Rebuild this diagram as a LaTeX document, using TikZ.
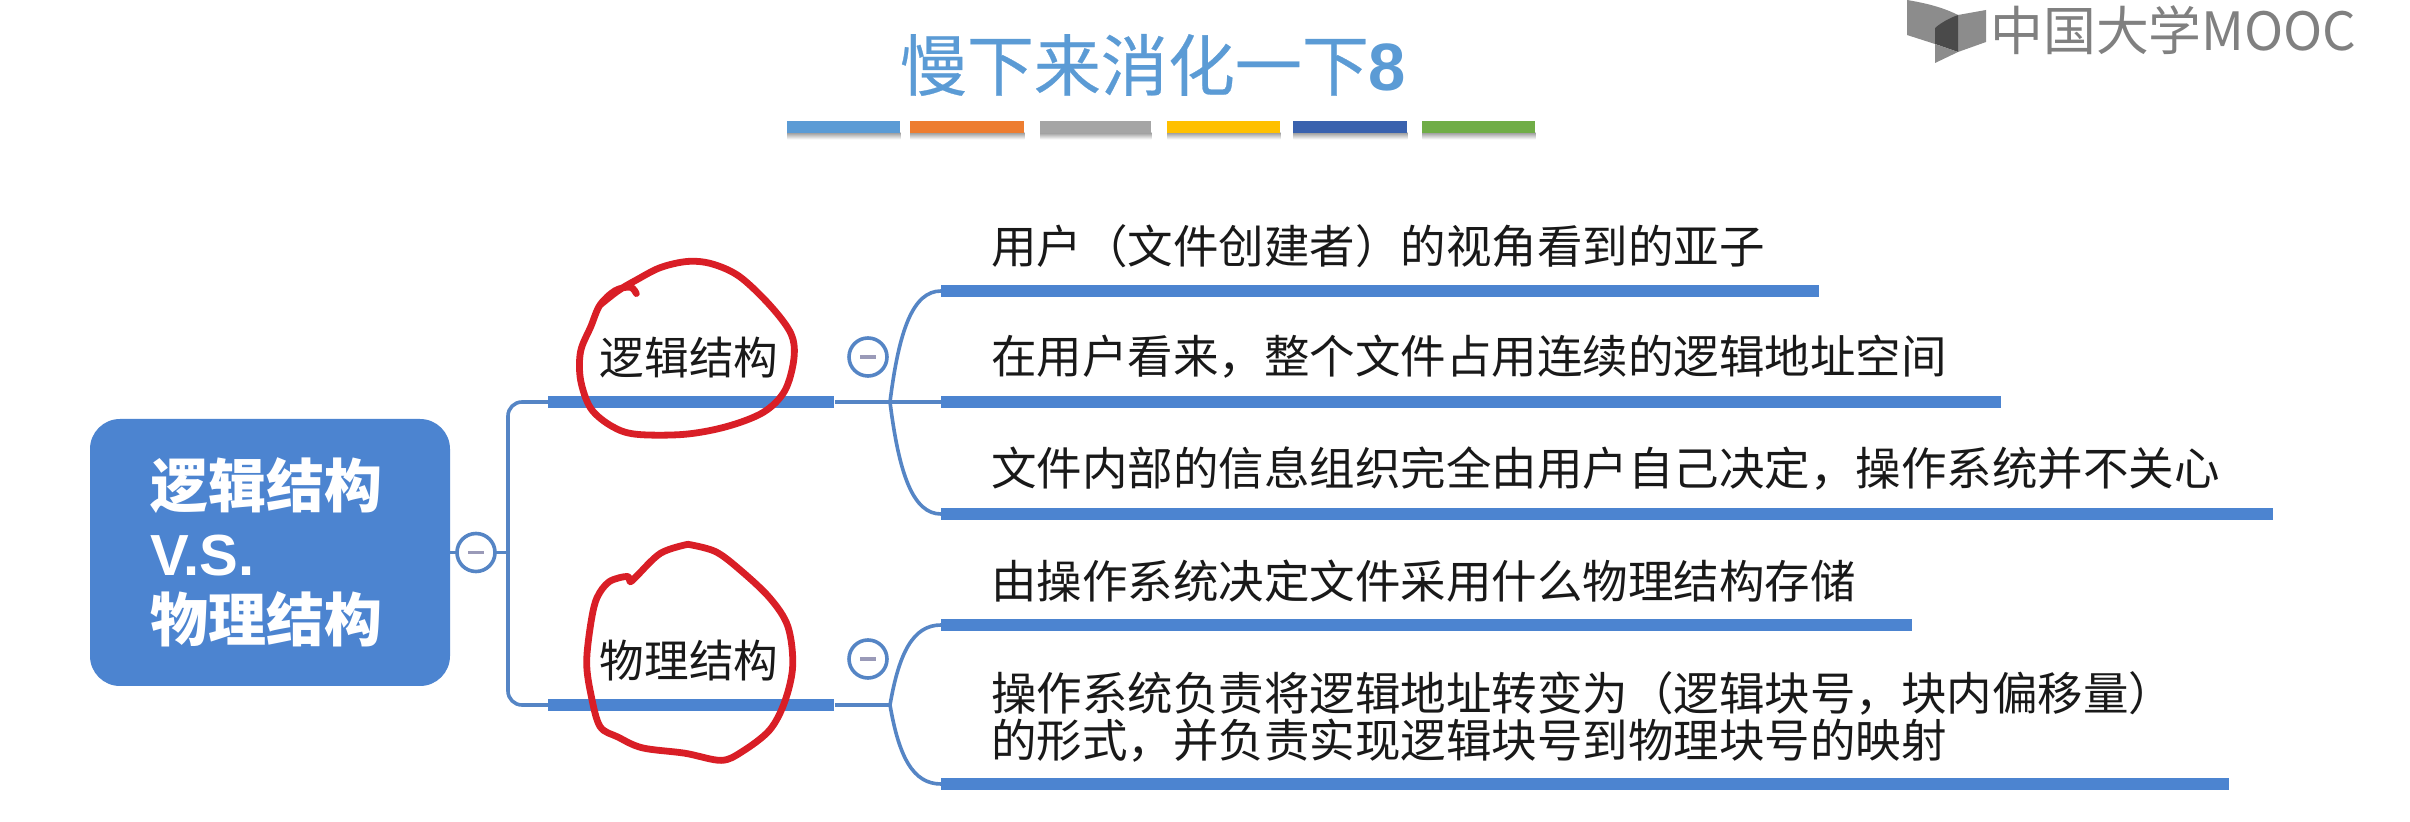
\documentclass[tikz,border=0pt]{standalone}
\usepackage{fontspec}
\setmainfont{Noto Sans CJK SC}
\newfontfamily\latinbold{Liberation Sans}
\newfontfamily\titlefont[FakeBold=0.4]{Noto Sans CJK SC}
\usetikzlibrary{calc}
\definecolor{mapblue}{HTML}{4C84D0}
\definecolor{linkblue}{HTML}{5585C5}
\definecolor{titleblue}{HTML}{5B9BD5}
\definecolor{dashgray}{HTML}{9A9AB8}
\definecolor{inkred}{HTML}{D91E26}
\definecolor{logogray}{HTML}{808080}
\definecolor{logomid}{HTML}{8C8C8C}
\definecolor{logodark}{HTML}{4A4A4A}
\tikzset{
 x=0.5pt,y=-0.5pt,
 barnode/.style={rectangle,fill=mapblue,inner sep=0pt,minimum height=6.2pt,anchor=west},
 link/.style={draw=linkblue,line width=1.8pt},
 togglenode/.style={circle,draw=linkblue,fill=white,line width=1.8pt,minimum size=19pt,inner sep=0pt,text=dashgray},
 leaf/.style={anchor=west,font=\fontsize{22.75pt}{23.5pt}\selectfont,inner sep=0pt,align=left,text=black!90},
 branchlabel/.style={anchor=center,font=\fontsize{22.3pt}{24pt}\selectfont,inner sep=0pt,text=black!90},
 strip/.style={rectangle,inner sep=0pt,minimum height=6pt,anchor=north west},
 stripshadow/.style={rectangle,inner sep=0pt,top color=black!40,bottom color=white,minimum height=3.5pt,anchor=north west},
 ink/.style={draw=inkred,line width=3.4pt,line cap=round,line join=round},
}
\newcommand{\dashglyph}{\rule{8pt}{1.6pt}}
\begin{document}
\begin{tikzpicture}
\useasboundingbox (0,0) rectangle (2410,822);
\fill[white] (0,0) rectangle (2410,822);
% title
\node[anchor=center,text=titleblue,inner sep=0pt,font=\fontsize{33.5pt}{36pt}\selectfont\titlefont] (title) at (1153,65) {慢下来消化一下\textbf{\latinbold 8}};
% colour strips
\foreach \n/\sx/\w/\c in {a/787/113/5B9BD5,b/910/114/ED7D31,c/1040/111/A5A5A5,d/1167/113/FFC000,e/1293/114/3A62AE,f/1422/113/70AD47}{
 \definecolor{stripc}{HTML}{\c}
 \node[stripshadow,minimum width=\w*0.5pt] at (\sx,132) {};
 \node[strip,fill=stripc,minimum width=\w*0.5pt] (s\n) at (\sx,121) {};
}
% logo
\fill[logomid] (1907,0) .. controls (1925,3) and (1942,7) .. (1958,15) -- (1935,28) -- (1935,44) -- (1907,35) -- cycle;
\fill[logomid] (1958,15) -- (1986,10) -- (1986,42) -- (1958,52) -- cycle;
\fill[logodark] (1935,28) .. controls (1942,22) and (1950,18) .. (1958,15) -- (1958,52) -- (1935,44) -- cycle;
\fill[logomid] (1935,44) -- (1958,52) -- (1935,63) -- cycle;
\node[anchor=west,inner sep=0pt,text=logogray,font=\fontsize{26.4pt}{28pt}\selectfont] (logo) at (1990,30) {中国大学MOOC};
% root
\node[rectangle,rounded corners=15pt,fill=mapblue,minimum width=180pt,minimum height=133.5pt,text=white,inner sep=0pt,
 text width=120pt,align=left,font=\fontsize{29pt}{33pt}\selectfont\bfseries] (root) at (270,552.5) {逻辑结构\\[1pt]{\latinbold V.S.}\\物理结构};
% bars
\node[barnode,minimum width=143pt] (bl) at (548,402) {};
\node[barnode,minimum width=143pt] (bp) at (548,705) {};
\node[barnode,minimum width=439pt] (l1) at (941,291) {};
\node[barnode,minimum width=530pt] (l2) at (941,402) {};
\node[barnode,minimum width=666pt] (l3) at (941,514) {};
\node[barnode,minimum width=485.5pt] (l4) at (941,625) {};
\node[barnode,minimum width=644pt] (l5) at (941,784) {};
\coordinate (j0) at (508,552.5);
\coordinate (j1) at (890,402);
\coordinate (j2) at (890,705);
% connectors
\draw[link] (root.east) -- (j0);
\draw[link,rounded corners=7pt] (bl.west) -| (j0) |- (bp.west);
\draw[link] (bl.east) -- (l2.west);
\draw[link] (bp.east) -- (j2);
\draw[link] (j1) .. controls ($(j1)+(9,-72)$) and ($(l1.west)+(-28,0)$) .. (l1.west);
\draw[link] (j1) .. controls ($(j1)+(9,72)$) and ($(l3.west)+(-28,0)$) .. (l3.west);
\draw[link] (j2) .. controls ($(j2)+(9,-52)$) and ($(l4.west)+(-28,0)$) .. (l4.west);
\draw[link] (j2) .. controls ($(j2)+(9,52)$) and ($(l5.west)+(-28,0)$) .. (l5.west);
% toggles
\node[togglenode] (t0) at (476,552.5) {\dashglyph};
\node[togglenode] (t1) at (868,357) {\dashglyph};
\node[togglenode] (t2) at (868,659) {\dashglyph};
% labels
\node[branchlabel] (bltext) at (689,358) {逻辑结构};
\node[branchlabel] (bptext) at (689,661) {物理结构};
\node[leaf] (n1) at (991,246) {用户（文件创建者）的视角看到的亚子};
\node[leaf] (n2) at (991,357) {在用户看来，整个文件占用连续的逻辑地址空间};
\node[leaf] (n3) at (991,469) {文件内部的信息组织完全由用户自己决定，操作系统并不关心};
\node[leaf] (n4) at (991,581) {由操作系统决定文件采用什么物理结构存储};
\node[leaf] (n5) at (991,717) {操作系统负责将逻辑地址转变为（逻辑块号，块内偏移量）\\的形式，并负责实现逻辑块号到物理块号的映射};
% red hand-drawn circles (coordinates of the crop scale)
\begin{scope}[x=0.30303pt,y=-0.17857pt,yshift=-115pt]
\draw[ink] plot[smooth,tension=0.55] coordinates {(1050,178) (1040,160) (1015,170) (990,210) (975,270) (958,340) (958,420) (975,500) (1010,550) (1050,572) (1130,572) (1200,550) (1260,510) (1295,450) (1310,360) (1305,290) (1270,210) (1220,130) (1175,95) (1135,88) (1090,105) (1050,140) (1020,170) (990,210)};
\draw[ink] plot[smooth,tension=0.55] coordinates {(1135,880) (1090,905) (1050,970) (1040,985) (1035,970) (1005,985) (985,1030) (975,1100) (968,1210) (975,1300) (990,1390) (1020,1420) (1060,1450) (1130,1465) (1190,1485) (1225,1460) (1270,1400) (1295,1320) (1308,1220) (1300,1110) (1270,1030) (1220,950) (1180,900) (1135,880)};
\end{scope}
\end{tikzpicture}
\end{document}
